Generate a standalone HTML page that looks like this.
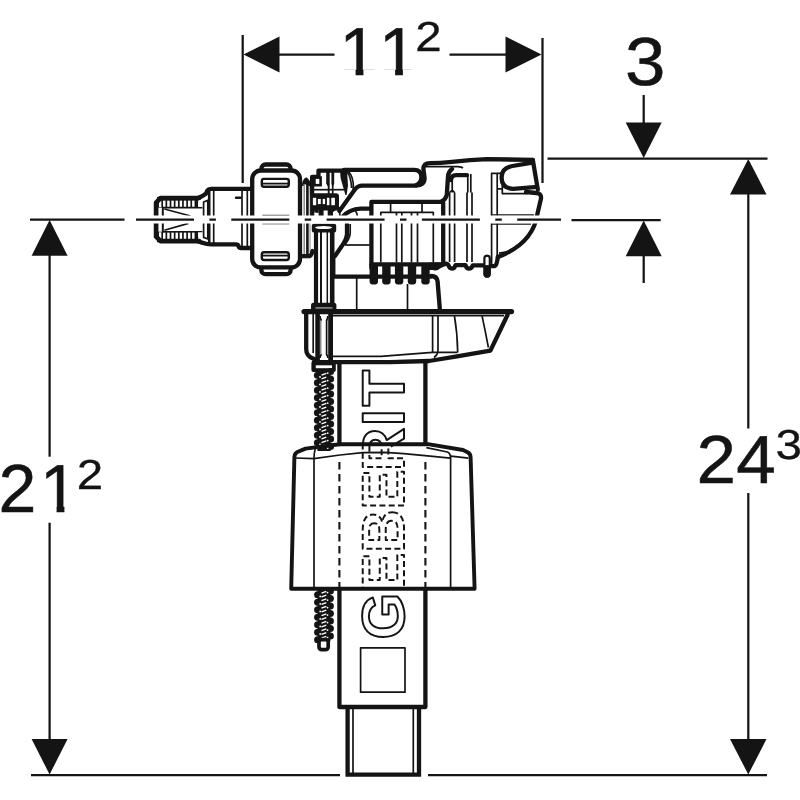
<!DOCTYPE html>
<html lang="en">
<head>
<meta charset="utf-8">
<title>Geberit fill valve - dimensional drawing</title>
<style>
  html, body { margin: 0; padding: 0; background: #ffffff; }
  body { width: 800px; height: 800px; overflow: hidden; }
  svg { display: block; will-change: transform; }
  text { text-rendering: geometricPrecision; }
  .num  { font-family: "Liberation Sans", sans-serif; font-size: 68px; fill: #141414; stroke: #141414; stroke-width: 0.5; }
  .sup  { font-family: "Liberation Sans", sans-serif; font-size: 42px; fill: #141414; stroke: #141414; stroke-width: 0.3; }
  .logo { font-family: "Liberation Sans", sans-serif; font-weight: bold; font-size: 60px; fill: none; stroke: #141414; stroke-width: 2; stroke-linejoin: round; }
  .dim  { stroke: #141414; stroke-width: 2.25; fill: none; }
  .arr  { fill: #141414; stroke: none; }
  .k    { stroke: #141414; stroke-width: 4.3; fill: none; stroke-linejoin: round; stroke-linecap: round; }
  .kw   { stroke: #141414; stroke-width: 4.3; fill: #ffffff; stroke-linejoin: round; stroke-linecap: round; }
  .m    { stroke: #141414; stroke-width: 2.4; fill: none; stroke-linejoin: round; stroke-linecap: round; }
  .t    { stroke: #141414; stroke-width: 1.7; fill: none; stroke-linejoin: round; }
  .g    { stroke: #8a8a8a; stroke-width: 1.5; fill: none; }
  .blk  { fill: #141414; stroke: none; }
  .wht  { fill: #ffffff; stroke: none; }
</style>
</head>
<body>
<svg width="800" height="800" viewBox="0 0 800 800">
<rect x="0" y="0" width="800" height="800" fill="#ffffff"/>

<!-- ============ DIMENSIONS ============ -->
<g id="dimensions">
  <!-- top dimension 11^2 -->
  <line class="dim" x1="242.7" y1="35" x2="242.7" y2="183"/>
  <line class="dim" x1="542.5" y1="38" x2="542.5" y2="183"/>
  <polygon class="arr" points="243.5,54.5 279.5,36.5 279.5,72.5"/>
  <line class="dim" x1="279" y1="54.5" x2="334.5" y2="54.5"/>
  <polygon class="arr" points="541.5,54.5 505.5,36.5 505.5,72.5"/>
  <line class="dim" x1="449.5" y1="54.5" x2="506" y2="54.5"/>
  <clipPath id="c11"><rect x="330" y="15" width="82" height="54.6"/><rect x="355.6" y="69" width="7.8" height="8"/><rect x="395.1" y="69" width="7.8" height="8"/></clipPath>
  <text class="num" x="339.5 379" y="74.5" clip-path="url(#c11)">11</text>
  <text class="sup" x="415.2" y="51.3" textLength="26.4" lengthAdjust="spacingAndGlyphs">2</text>

  <!-- dimension 3 -->
  <text class="num" x="625" y="85.4" textLength="40.4" lengthAdjust="spacingAndGlyphs">3</text>
  <line class="dim" x1="643.7" y1="95" x2="643.7" y2="123"/>
  <polygon class="arr" points="643.7,158 625.7,122.5 661.7,122.5"/>
  <line class="dim" x1="547.5" y1="158.5" x2="767.5" y2="158.5"/>
  <line class="dim" x1="571.5" y1="220" x2="660.7" y2="220"/>
  <polygon class="arr" points="643.7,220.5 625.7,256.2 661.7,256.2"/>
  <line class="dim" x1="643.7" y1="256" x2="643.7" y2="283"/>

  <!-- right dimension 24^3 -->
  <polygon class="arr" points="748.3,159 730,194.5 766.5,194.5"/>
  <line class="dim" x1="748.3" y1="194" x2="748.3" y2="428.5"/>
  <line class="dim" x1="748.3" y1="493" x2="748.3" y2="739.5"/>
  <polygon class="arr" points="748.3,774.5 730,739 766.5,739"/>
  <line class="dim" x1="428" y1="775" x2="767" y2="775"/>
  <text class="num" transform="translate(696.5 482.6) scale(1.045 1)" x="0 38.1" y="0">24</text>
  <text class="sup" x="775.4" y="459" textLength="26.4" lengthAdjust="spacingAndGlyphs">3</text>

  <!-- left dimension 21^2 -->
  <line class="dim" x1="30" y1="219.6" x2="124.5" y2="219.6"/>
  <polygon class="arr" points="49.6,220 31.6,255.7 67.6,255.7"/>
  <line class="dim" x1="49.6" y1="255" x2="49.6" y2="456.7"/>
  <line class="dim" x1="49.6" y1="522.7" x2="49.6" y2="739.5"/>
  <polygon class="arr" points="49.6,774.5 31.6,739 67.6,739"/>
  <line class="dim" x1="31" y1="775" x2="340" y2="775"/>
  <clipPath id="c21"><rect x="-6" y="450" width="42" height="70"/><rect x="36" y="450" width="43" height="56.1"/><rect x="56.6" y="505.5" width="7.8" height="8"/></clipPath>
  <text class="num" x="-1.4 40" y="512.1" clip-path="url(#c21)">21</text>
  <text class="sup" x="76.8" y="489" textLength="26.4" lengthAdjust="spacingAndGlyphs">2</text>
</g>

<!-- ============ VALVE ============ -->
<g id="valve">
<!-- threaded inlet connector -->
<g id="inlet">
  <!-- thread bands: black with white slots -->
  <rect class="blk" x="157" y="197" width="41.2" height="10.6"/>
  <rect class="blk" x="157" y="231.7" width="41.2" height="10.6"/>
  <line x1="158.9" y1="203.7" x2="195.4" y2="203.7" stroke="#ffffff" stroke-width="6.6" stroke-dasharray="2.45 1.7"/>
  <line x1="158.9" y1="235.6" x2="195.4" y2="235.6" stroke="#ffffff" stroke-width="6.6" stroke-dasharray="2.45 1.7"/>
  <path class="t" style="stroke-width:1.6" d="M162,207.6 H202.4 M162,231.7 H202.4"/>
  <rect class="wht" x="198.2" y="202.2" width="4.2" height="4.6"/>
  <rect class="wht" x="198.2" y="232.5" width="4.2" height="4.6"/>
  <line x1="162.8" y1="207" x2="162.8" y2="232.3" stroke="#141414" stroke-width="2"/>
  <path class="t" d="M164.4,209 L190.6,216 M164.4,230.3 L188.4,223.4"/>
  <path class="k" style="stroke-width:4.7" d="M199,198 H160.6 L156.1,202.6 V236.7 L160.6,241.2 H199"/>
  <path class="k" d="M198,198 L202,196.2 L206,193.6 L207.4,190.4 Q208.4,188.8 211,188.8 H251"/>
  <path class="k" d="M198,241.2 L202,242.6 L207,244 Q208.5,244.4 211,244.4 H236 Q238,244.4 238.6,246.2 Q239.2,248 241.2,248 H251"/>
  <!-- neck ring -->
  <path class="t" d="M203.6,202 L207.8,200.4 V239 L203.6,237.4 Z" fill="#ffffff"/>
  <line class="m" x1="209.2" y1="190" x2="209.2" y2="243.5" style="stroke-width:2.6"/>
  <line class="t" x1="213.7" y1="189.5" x2="213.7" y2="243.5"/>
  <line class="t" x1="242" y1="189.5" x2="242" y2="247.5"/>
  <line class="t" x1="247.3" y1="188" x2="247.3" y2="248"/>
  <line class="m" x1="236" y1="197.8" x2="240.6" y2="197.8"/>
</g>
<!-- union nut -->
<g id="nut">
  <rect class="kw" x="261.4" y="164.5" width="29.2" height="12" rx="4"/>
  <rect class="kw" x="261.4" y="262.2" width="29.2" height="12" rx="4"/>
  <rect class="kw" x="252.2" y="170.5" width="47.8" height="96.9" rx="8.5"/>
  <rect class="m" x="261.8" y="178.9" width="27" height="7.8" rx="2.2"/>
  <line class="t" x1="263" y1="183.6" x2="288" y2="183.6" style="stroke-width:1.8"/>
  <rect class="m" x="261.8" y="252.2" width="27" height="7.8" rx="2.2"/>
  <line class="t" x1="263" y1="255.6" x2="288" y2="255.6" style="stroke-width:1.8"/>
  <line class="t" x1="262.3" y1="215.6" x2="289.3" y2="215.6" style="stroke:#444"/>
  <line class="g" x1="262.3" y1="223.8" x2="289.3" y2="223.8"/>
</g>
<!-- sealing washers right of nut -->
<g id="washers">
  <path class="blk" d="M301.5,186 L302.6,181.5 Q305,176.6 306.6,177.6 Q309,179 311.8,184.5 L311.8,187 L309,186 L307.5,184.5 L304.6,184.5 L303.5,186 Z"/>
  <line class="g" x1="304.2" y1="184" x2="304.2" y2="256"/>
  <line x1="307.4" y1="184" x2="307.4" y2="255" stroke="#141414" stroke-width="2.6"/>
  <line class="g" x1="310" y1="186" x2="310" y2="252" style="stroke-width:1"/>
  <path class="k" d="M301,256.2 H309.5 Q311.5,255.6 312.5,251"/>
</g>

<!-- lever pivot bracket -->
<g id="bracket">
  <path class="k" d="M312.1,194 V177 H318.5 V170.6 H345"/>
  <line class="t" x1="312" y1="189.7" x2="344" y2="189.7"/>
  <rect x="314.4" y="177.6" width="6.2" height="7.6" fill="#fff" stroke="#141414" stroke-width="2.6"/>
  <path class="blk" d="M326.2,170 H329.7 V183.5 L328.8,186 L327.6,186 L326.2,183.5 Z"/>
  <line class="t" x1="328.7" y1="184" x2="328.7" y2="194" style="stroke-width:1.9"/>
  <path class="blk" d="M331.4,170 H334.2 V183.5 L333.3,186 L332.2,186 L331.4,183.5 Z"/>
  <line class="t" x1="332.7" y1="184" x2="332.7" y2="194" style="stroke-width:1.7"/>
  <polygon class="blk" points="340,170 347,170 348,185.5 346.6,195 345.4,195 342.7,185.5 340.6,178"/>
  <!-- toothed box -->
  <path class="blk" d="M310.1,193.2 H336 Q339,193.2 339,196.2 V210.4 H310.1 Z"/>
  <rect class="wht" x="312.9" y="197.8" width="3.3" height="7.4"/>
  <rect class="wht" x="317.9" y="198.9" width="2.9" height="5.2"/>
  <rect class="wht" x="322.7" y="198.9" width="2.4" height="5.2"/>
  <rect class="wht" x="326.9" y="197.8" width="2.5" height="7.4"/>
  <rect class="wht" x="331.3" y="197.8" width="3.6" height="7.4"/>
  <path class="blk" d="M310.1,210 H314.3 V216 H310.1 Z M318.6,210 H323.6 V216 H318.6 Z M327.7,210 H333 V216 H327.7 Z"/>
  <path class="blk" d="M314.3,210 H318.6 V213 L314.3,212.4 Z M333,210 H336 L333,212 Z"/>
  <line class="t" x1="339.8" y1="207" x2="339.8" y2="216"/>
</g>
<!-- vertical adjusting rod -->
<g id="rod">
  <rect class="blk" x="311.8" y="223.8" width="24.4" height="8.6" rx="2"/>
  <ellipse class="wht" cx="323.6" cy="227.6" rx="8.6" ry="1.5"/>
  <line x1="316" y1="231" x2="316" y2="304" stroke="#141414" stroke-width="4.2"/>
  <line x1="321" y1="232" x2="321" y2="304" stroke="#141414" stroke-width="2"/>
  <line x1="327.3" y1="232" x2="327.3" y2="304" stroke="#141414" stroke-width="1.5"/>
  <line x1="332.2" y1="231" x2="332.2" y2="304" stroke="#141414" stroke-width="4.6"/>
  <rect class="blk" x="311" y="302.8" width="25.4" height="8.6" rx="2.5"/>
  <line class="g" x1="315.5" y1="307.9" x2="332.5" y2="307.9" style="stroke-width:1.6"/>
</g>
<!-- clamp on tray -->
<g id="clamp">
  <path class="k" d="M306.2,314 V349 Q306.2,356 313,358.5 L316,360"/>
  <line class="t" x1="313.2" y1="314" x2="313.2" y2="353"/>
  <line x1="317.6" y1="313" x2="317.6" y2="362" stroke="#141414" stroke-width="4.6"/>
  <line x1="330.6" y1="313" x2="330.6" y2="362" stroke="#141414" stroke-width="4.8"/>
  <line class="g" x1="320.7" y1="320" x2="320.7" y2="355"/>
  <line class="t" x1="326.6" y1="320" x2="326.6" y2="355"/>
  <path class="t" d="M320,316 Q320,319 321.6,320.5 M327.8,316 Q327.8,319 326.4,320.5 M320,358 Q320,355.5 321.6,354.5 M327.8,358 Q327.8,355.5 326.4,354.5"/>
  <!-- spring top collar -->
  <rect class="blk" x="311.4" y="361" width="24.4" height="11" rx="2"/>
  <rect class="wht" x="315.8" y="365.3" width="16.2" height="2.9"/>
</g>

<!-- float lever arm -->
<g id="lever">
  <path class="k" d="M344,169.8 H414 Q421.2,169.8 421.4,177 Q421.4,183 416,185.2"/>
  <path class="t" d="M346.5,171.5 Q351,176 351.6,188 M348.6,171.5 Q353.6,177 353.4,188 Q353,193 350.5,197"/>
  <!-- housing top, S-bend and lever underside -->
  <path class="k" d="M532.8,159.8 L487,159.2 L470,160.2 L452,161.8 Q440,163 430,163.2 Q423.4,163.4 423.4,169 L424.6,178 Q424.8,185.6 416,185.6 H362 Q358.4,185.6 355.6,188.6 L339.4,211"/>
  <path class="k" d="M370,208.6 H360.5 Q349.5,209 343,216.5"/>
  <path class="t" d="M355.5,211 Q357,213 357.4,216"/>
  <path class="k" d="M347,224 V234 Q346.6,240 341.5,246.5 L335,256"/>
  <path class="t" d="M350.2,224 V233 Q350,238 345.5,244"/>
  <line class="t" x1="345" y1="245" x2="369.6" y2="245"/>
</g>
<!-- valve housing -->
<g id="housing">
  <path class="k" d="M371.4,268 V201.9 H440.5 Q445,200.6 446.8,195 L448,176.5 Q448.4,171.5 452,169"/>
  <path class="k" d="M451,180 Q451.4,175.4 456,175.2 H467"/>
  <line class="k" x1="443.2" y1="203" x2="443.2" y2="262"/>
  <path class="t" d="M425.5,166.6 H458 Q461.5,166.8 463,168"/>
  <!-- inner thin structure -->
  <path class="t" d="M390.6,202 V212.3 M422,202 V212.3 M380.8,262.5 V212.3 H433.3 V262.5 M396.5,212.3 V262.5 M401.8,212.3 V262.5 M411.5,212.3 V262.5 M417.5,212.3 V262.5"/>
  <!-- pins -->
  <path class="t" d="M449.6,192.5 V262 M454.6,192.5 V262 M452.2,178 V192.5 M449.6,192.5 L452.2,190 L454.6,192.5"/>
  <path class="t" d="M467,192.5 V262 M472,192.5 V262 M467.8,175 V192.5 M470.8,174 V192.5"/>
  <path class="t" d="M491.6,264 V173.4 H501.5 M497.2,173.4 V262 M496.6,188.8 H502.3 M502.3,185.5 V193.6 H527.5 M491.8,215 H534"/>
  <!-- hook -->
  <path class="k" d="M532.4,162.6 L512.5,166 Q501.6,168 501.6,177.5 Q501.6,188.4 513,188.8 L534.5,187.2"/>
  <!-- right edge + belly -->
  <path class="k" d="M532.8,159.8 L537.8,189.5 M526,192 L536.5,193 Q541.6,193.4 541,198.5 L537.4,214 Q533,243.5 498,257"/>
  <line class="t" x1="491.8" y1="224" x2="531" y2="224"/>
  <path class="t" d="M499,253.2 L510.5,251.4"/>
  <!-- bottom wavy edge -->
  <path class="k" d="M371.4,264.4 H444 Q446.6,263 448.4,265 Q449.4,268.6 452,268.6 Q454.6,268.6 455.4,265.2 H465.6 Q466.4,268.6 469,268.6 Q471.8,268.6 472.6,265.4 H483.6"/>
  <rect x="484.4" y="255.6" width="5.4" height="20.8" rx="2.7" fill="#fff" stroke="#141414" stroke-width="2.2"/>
  <line x1="487.1" y1="268.5" x2="487.1" y2="274.4" stroke="#141414" stroke-width="6.8" stroke-linecap="round"/>
  <path class="k" d="M490.5,266.2 H494.6 Q497,265 497.8,257"/>
  <!-- teeth -->
  <g class="blk">
    <rect x="369.6" y="264" width="8.4" height="20.4" rx="2.8"/>
    <rect x="382.2" y="264" width="8.4" height="20.4" rx="2.8"/>
    <rect x="394.9" y="264" width="8.4" height="20.4" rx="2.8"/>
    <rect x="407.8" y="264" width="8.4" height="20.4" rx="2.8"/>
    <rect x="421.3" y="264" width="8.4" height="20.4" rx="2.8"/>
    <path d="M429,262.4 H444 V266.4 L440,268.6 Q437,271.6 433,270 L429,270 Z"/>
  </g>
</g>

<!-- intermediate body between housing and tray -->
<g id="midbody">
  <line class="k" x1="334" y1="276.6" x2="431" y2="276.6"/>
  <path class="k" d="M431,276 Q437,276 437.6,281.5 L439.9,310"/>
  <line class="t" x1="356.7" y1="277" x2="356.7" y2="310"/>
  <line class="t" x1="407.5" y1="284" x2="407.5" y2="310"/>
  <line class="t" x1="334.6" y1="256" x2="334.6" y2="277"/>
</g>
<!-- tray -->
<g id="tray">
  <line x1="304" y1="311.6" x2="511.5" y2="311.6" stroke="#141414" stroke-width="5.2" stroke-linecap="round"/>
  <line class="t" x1="333" y1="315.6" x2="504" y2="315.6"/>
  <path class="k" d="M507.5,315 L490.4,350.6 L457,356.4 L429,361 L390,362.2 H314"/>
  <path class="t" d="M333,356.3 H381 L432.5,352.4 H457.5"/>
  <path class="t" d="M432.6,315.6 V352 M438,315.6 V350 Q438,354.5 434,357.5 M454.4,315.6 Q457.4,333 457.7,352.5 M482,315.6 Q485.5,332 488.4,347.5"/>
</g>

<!-- central column (behind float) -->
<defs>
  <clipPath id="clipFloat"><polygon points="294.5,454 301,449.3 335,444.4 429.3,444.4 461.8,449.3 468.3,454 474.7,589 291.2,589"/></clipPath>
  <clipPath id="clipOutside"><path d="M0,0 H800 V800 H0 Z M294.5,454 L291.2,589 H474.7 L468.3,454 L461.8,449.3 L429.3,444.4 H335 L301,449.3 Z" clip-rule="evenodd"/></clipPath>
</defs>
<g id="column">
  <path class="k" d="M339.4,363 V446 M425.4,362 V444" style="stroke-linecap:butt"/>
  <path class="k" d="M339.4,589 V707 H425.4 V589" style="stroke-linecap:butt"/>
  <path class="t" d="M339.4,462 V589 M425.4,462 V589" stroke-dasharray="7.4 4.6" style="stroke-width:2.1"/>
</g>
<!-- outlet pipe -->
<g id="pipe">
  <path class="k" d="M347.6,708 V774.6 H419 V708" style="stroke-linecap:butt;stroke-linejoin:miter"/>
  <path class="t" d="M353,709 V773 M413.3,709 V773"/>
</g>
<!-- GEBERIT logo, rotated, drawn as outlined text; hidden part inside float is dashed -->
<g id="logo">
  <rect class="t" x="360.6" y="647.8" width="44.4" height="44.4"/>
  <g clip-path="url(#clipOutside)">
    <text class="logo" transform="translate(404.4 639.5) rotate(-90)" dx="0 0 0 0 -1.5 1.5 3">GEBERIT</text>
  </g>
  <g clip-path="url(#clipFloat)">
    <text class="logo" transform="translate(404.4 639.5) rotate(-90)" stroke-dasharray="6 3.3" style="stroke-width:2" dx="0 0 0 0 -1.5 1.5 3">GEBERIT</text>
  </g>
</g>
<!-- spring / threaded spindle -->
<g id="spring-upper">
  <rect class="blk" x="317.4" y="371" width="13.200000000000045" height="80"/>
  <circle class="blk" cx="317.4" cy="375.2" r="3.5"/>
  <circle class="blk" cx="317.4" cy="382.8" r="3.5"/>
  <circle class="blk" cx="317.4" cy="390.2" r="3.5"/>
  <circle class="blk" cx="317.4" cy="397.8" r="3.5"/>
  <circle class="blk" cx="317.4" cy="405.2" r="3.5"/>
  <circle class="blk" cx="317.4" cy="412.8" r="3.5"/>
  <circle class="blk" cx="317.4" cy="420.2" r="3.5"/>
  <circle class="blk" cx="317.4" cy="427.8" r="3.5"/>
  <circle class="blk" cx="317.4" cy="435.2" r="3.5"/>
  <circle class="blk" cx="317.4" cy="442.8" r="3.5"/>
  <circle class="blk" cx="330.6" cy="371.5" r="3.5"/>
  <circle class="blk" cx="330.6" cy="379.0" r="3.5"/>
  <circle class="blk" cx="330.6" cy="386.5" r="3.5"/>
  <circle class="blk" cx="330.6" cy="394.0" r="3.5"/>
  <circle class="blk" cx="330.6" cy="401.5" r="3.5"/>
  <circle class="blk" cx="330.6" cy="409.0" r="3.5"/>
  <circle class="blk" cx="330.6" cy="416.5" r="3.5"/>
  <circle class="blk" cx="330.6" cy="424.0" r="3.5"/>
  <circle class="blk" cx="330.6" cy="431.5" r="3.5"/>
  <circle class="blk" cx="330.6" cy="439.0" r="3.5"/>
  <circle class="blk" cx="330.6" cy="446.5" r="3.5"/>
  <path d="M321.5,375.1 L326.3,373.3 M321.5,378.8 L326.3,377.1 M321.5,382.6 L326.3,380.8 M321.5,386.3 L326.3,384.6 M321.5,390.1 L326.3,388.3 M321.5,393.8 L326.3,392.1 M321.5,397.6 L326.3,395.8 M321.5,401.3 L326.3,399.6 M321.5,405.1 L326.3,403.3 M321.5,408.8 L326.3,407.1 M321.5,412.6 L326.3,410.8 M321.5,416.3 L326.3,414.6 M321.5,420.1 L326.3,418.3 M321.5,423.8 L326.3,422.1 M321.5,427.6 L326.3,425.8 M321.5,431.3 L326.3,429.6 M321.5,435.1 L326.3,433.3 M321.5,438.8 L326.3,437.1 M321.5,442.6 L326.3,440.8 M321.5,446.3 L326.3,444.6" stroke="#ffffff" stroke-width="1.35" fill="none"/>
  <circle class="wht" cx="320.0" cy="376.9" r="0.9"/>
  <circle class="wht" cx="320.0" cy="384.4" r="0.9"/>
  <circle class="wht" cx="320.0" cy="391.9" r="0.9"/>
  <circle class="wht" cx="320.0" cy="399.4" r="0.9"/>
  <circle class="wht" cx="320.0" cy="406.9" r="0.9"/>
  <circle class="wht" cx="320.0" cy="414.4" r="0.9"/>
  <circle class="wht" cx="320.0" cy="421.9" r="0.9"/>
  <circle class="wht" cx="320.0" cy="429.4" r="0.9"/>
  <circle class="wht" cx="320.0" cy="436.9" r="0.9"/>
  <circle class="wht" cx="320.0" cy="444.4" r="0.9"/>
  <circle class="wht" cx="327.7" cy="373.1" r="0.9"/>
  <circle class="wht" cx="327.7" cy="380.6" r="0.9"/>
  <circle class="wht" cx="327.7" cy="388.1" r="0.9"/>
  <circle class="wht" cx="327.7" cy="395.6" r="0.9"/>
  <circle class="wht" cx="327.7" cy="403.1" r="0.9"/>
  <circle class="wht" cx="327.7" cy="410.6" r="0.9"/>
  <circle class="wht" cx="327.7" cy="418.1" r="0.9"/>
  <circle class="wht" cx="327.7" cy="425.6" r="0.9"/>
  <circle class="wht" cx="327.7" cy="433.1" r="0.9"/>
  <circle class="wht" cx="327.7" cy="440.6" r="0.9"/>
  <circle class="wht" cx="327.7" cy="448.1" r="0.9"/>
</g>
<g id="spring-lower">
  <rect class="blk" x="317.6" y="589" width="12.799999999999955" height="52.5"/>
  <circle class="blk" cx="317.6" cy="594.8" r="3.5"/>
  <circle class="blk" cx="317.6" cy="602.2" r="3.5"/>
  <circle class="blk" cx="317.6" cy="609.8" r="3.5"/>
  <circle class="blk" cx="317.6" cy="617.2" r="3.5"/>
  <circle class="blk" cx="317.6" cy="624.8" r="3.5"/>
  <circle class="blk" cx="317.6" cy="632.2" r="3.5"/>
  <circle class="blk" cx="317.6" cy="639.8" r="3.5"/>
  <circle class="blk" cx="330.4" cy="591.0" r="3.5"/>
  <circle class="blk" cx="330.4" cy="598.5" r="3.5"/>
  <circle class="blk" cx="330.4" cy="606.0" r="3.5"/>
  <circle class="blk" cx="330.4" cy="613.5" r="3.5"/>
  <circle class="blk" cx="330.4" cy="621.0" r="3.5"/>
  <circle class="blk" cx="330.4" cy="628.5" r="3.5"/>
  <circle class="blk" cx="330.4" cy="636.0" r="3.5"/>
  <path d="M321.5,593.1 L326.3,591.3 M321.5,596.9 L326.3,595.1 M321.5,600.6 L326.3,598.8 M321.5,604.4 L326.3,602.6 M321.5,608.1 L326.3,606.3 M321.5,611.9 L326.3,610.1 M321.5,615.6 L326.3,613.8 M321.5,619.4 L326.3,617.6 M321.5,623.1 L326.3,621.3 M321.5,626.9 L326.3,625.1 M321.5,630.6 L326.3,628.8 M321.5,634.4 L326.3,632.6 M321.5,638.1 L326.3,636.3" stroke="#ffffff" stroke-width="1.35" fill="none"/>
  <circle class="wht" cx="320.2" cy="596.4" r="0.9"/>
  <circle class="wht" cx="320.2" cy="603.9" r="0.9"/>
  <circle class="wht" cx="320.2" cy="611.4" r="0.9"/>
  <circle class="wht" cx="320.2" cy="618.9" r="0.9"/>
  <circle class="wht" cx="320.2" cy="626.4" r="0.9"/>
  <circle class="wht" cx="320.2" cy="633.9" r="0.9"/>
  <circle class="wht" cx="320.2" cy="641.4" r="0.9"/>
  <circle class="wht" cx="327.5" cy="592.6" r="0.9"/>
  <circle class="wht" cx="327.5" cy="600.1" r="0.9"/>
  <circle class="wht" cx="327.5" cy="607.6" r="0.9"/>
  <circle class="wht" cx="327.5" cy="615.1" r="0.9"/>
  <circle class="wht" cx="327.5" cy="622.6" r="0.9"/>
  <circle class="wht" cx="327.5" cy="630.1" r="0.9"/>
  <circle class="wht" cx="327.5" cy="637.6" r="0.9"/>
  <rect x="319" y="639.6" width="9.2" height="10" rx="2.6" fill="#ffffff" stroke="#141414" stroke-width="3.7"/>
</g>
<!-- float -->
<g id="float">
  <path class="k" style="stroke-width:3.9" d="M294.4,457 L291.2,588.8 H474.6 L470.6,457 Q470.4,453.6 467.6,452.2 L463,450 L428,444.2 H340.5 L335.5,444.8 L305.5,448.6 L297.4,452 Q294.6,453.4 294.4,457 Z"/>
  <path class="t" d="M295.4,458 L313.8,458.6 L340,455 L362.5,452.7 L385,452.4 L403.8,453.6 L425,455.6 L450.4,458.2 M450.6,458 Q450.6,453.6 447.4,452 L426.4,447.6 M451,456.2 L468.4,458.2"/>
  <path class="t" d="M315.2,449 Q314,453 314,458.6 V587 M450.6,458 V587"/>
</g>


</g>

<!-- centre line (with white halo that interrupts the drawing) -->
<line x1="136" y1="219.6" x2="561" y2="219.6" stroke="#ffffff" stroke-width="8"/>
<line class="dim" x1="136" y1="219.6" x2="561" y2="219.6" stroke-dasharray="58 15.4 6.5 15.4"/>
</svg>
</body>
</html>
